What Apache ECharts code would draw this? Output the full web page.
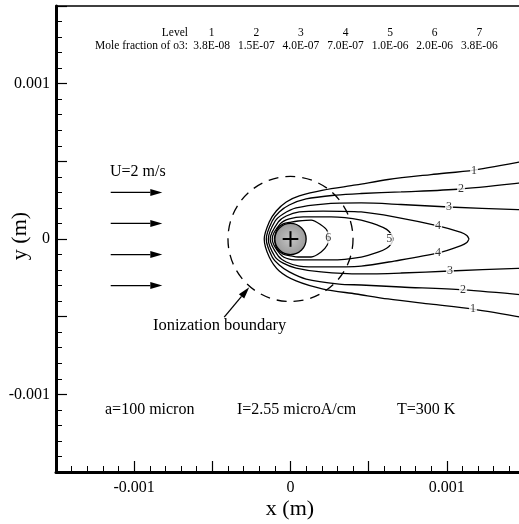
<!DOCTYPE html>
<html>
<head>
<meta charset="utf-8">
<script src="https://cdn.jsdelivr.net/npm/echarts@6/dist/echarts.min.js"></script>
<style>
html,body{margin:0;padding:0;background:#fff;overflow:hidden;}
#main{width:530px;height:524px;}
</style>
</head>
<body>
<div id="main"></div>
<script>
// ---- data (metres) ----
const levels = ['1','2','3','4','5','6','7'];
const moleFractions = ['3.8E-08','1.5E-07','4.0E-07','7.0E-07','1.0E-06','2.0E-06','3.8E-06'];

const contour1 = [[1.5e-3,0.503e-3],[1.174e-3,0.444e-3],[0.899e-3,0.415e-3],[0.624e-3,0.383e-3],[0.420e-3,0.348e-3],[0.209e-3,0.315e-3],[0.056e-3,0.277e-3],[-0.027e-3,0.238e-3],[-0.091e-3,0.180e-3],[-0.136e-3,0.109e-3],[-0.168e-3,0],[-0.136e-3,-0.116e-3],[-0.072e-3,-0.206e-3],[0.036e-3,-0.270e-3],[0.209e-3,-0.322e-3],[0.420e-3,-0.354e-3],[0.624e-3,-0.386e-3],[0.899e-3,-0.419e-3],[1.167e-3,-0.451e-3],[1.5e-3,-0.507e-3]];
const contour2 = [[1.5e-3,0.364e-3],[1.091e-3,0.322e-3],[0.707e-3,0.303e-3],[0.452e-3,0.293e-3],[0.292e-3,0.283e-3],[0.100e-3,0.258e-3],[-0.008e-3,0.219e-3],[-0.072e-3,0.174e-3],[-0.117e-3,0.116e-3],[-0.155e-3,0],[-0.117e-3,-0.116e-3],[-0.072e-3,-0.167e-3],[-0.008e-3,-0.212e-3],[0.100e-3,-0.258e-3],[0.311e-3,-0.290e-3],[0.452e-3,-0.296e-3],[0.707e-3,-0.309e-3],[1.104e-3,-0.328e-3],[1.5e-3,-0.361e-3]];
const contour3 = [[1.5e-3,0.187e-3],[1.013e-3,0.206e-3],[0.707e-3,0.222e-3],[0.452e-3,0.232e-3],[0.209e-3,0.225e-3],[0.036e-3,0.200e-3],[-0.047e-3,0.161e-3],[-0.098e-3,0.116e-3],[-0.142e-3,0],[-0.098e-3,-0.116e-3],[-0.047e-3,-0.155e-3],[0.036e-3,-0.187e-3],[0.196e-3,-0.212e-3],[0.452e-3,-0.225e-3],[0.707e-3,-0.219e-3],[1.020e-3,-0.206e-3],[1.5e-3,-0.187e-3]];
const contour4 = [[1.142e-3,0],[1.128e-3,0.022e-3],[1.091e-3,0.042e-3],[0.944e-3,0.084e-3],[0.663e-3,0.142e-3],[0.452e-3,0.174e-3],[0.209e-3,0.180e-3],[0.056e-3,0.174e-3],[-0.027e-3,0.148e-3],[-0.079e-3,0.109e-3],[-0.130e-3,0],[-0.079e-3,-0.109e-3],[-0.027e-3,-0.148e-3],[0.056e-3,-0.174e-3],[0.209e-3,-0.180e-3],[0.452e-3,-0.174e-3],[0.663e-3,-0.142e-3],[0.944e-3,-0.090e-3],[1.091e-3,-0.042e-3],[1.128e-3,-0.022e-3],[1.142e-3,0]];
const contour5 = [[0.656e-3,0],[0.645e-3,0.030e-3],[0.615e-3,0.062e-3],[0.560e-3,0.088e-3],[0.452e-3,0.122e-3],[0.260e-3,0.142e-3],[0.081e-3,0.142e-3],[-0.008e-3,0.129e-3],[-0.066e-3,0.097e-3],[-0.117e-3,0],[-0.066e-3,-0.097e-3],[-0.008e-3,-0.129e-3],[0.081e-3,-0.135e-3],[0.260e-3,-0.135e-3],[0.452e-3,-0.116e-3],[0.560e-3,-0.085e-3],[0.615e-3,-0.060e-3],[0.645e-3,-0.030e-3],[0.656e-3,0]];
const contour6 = [[-0.104e-3,0],[-0.085e-3,0.064e-3],[-0.047e-3,0.097e-3],[0.004e-3,0.109e-3],[0.049e-3,0.116e-3],[0.132e-3,0.122e-3],[0.196e-3,0.090e-3],[0.235e-3,0.052e-3],[0.241e-3,0],[0.235e-3,-0.039e-3],[0.196e-3,-0.084e-3],[0.132e-3,-0.116e-3],[0.049e-3,-0.116e-3],[0.004e-3,-0.109e-3],[-0.047e-3,-0.097e-3],[-0.085e-3,-0.064e-3],[-0.104e-3,0]];
const contours = [contour1, contour2, contour3, contour4, contour5, contour6];

const contourLabels = [
  ['1',1.174e-3,0.438e-3],['1',1.167e-3,-0.451e-3],
  ['2',1.091e-3,0.322e-3],['2',1.104e-3,-0.328e-3],
  ['3',1.014e-3,0.206e-3],['3',1.020e-3,-0.206e-3],
  ['4',0.944e-3,0.084e-3],['4',0.944e-3,-0.090e-3],
  ['5',0.631e-3,0],['6',0.241e-3,0.010e-3]
];

const wire = [[0, 0, 0.1e-3]];               // centre x, y, radius a = 100 micron
const ionBoundary = [[0, 0, 0.4e-3]];        // centre x, y, radius
// arrows: [x1, y1, x2, y2] (tail -> head)
const arrows = [
  [-1.15e-3, 0.3e-3, -0.82e-3, 0.3e-3],
  [-1.15e-3, 0.1e-3, -0.82e-3, 0.1e-3],
  [-1.15e-3,-0.1e-3, -0.82e-3,-0.1e-3],
  [-1.15e-3,-0.3e-3, -0.82e-3,-0.3e-3],
  [-0.424e-3,-0.503e-3, -0.264e-3,-0.310e-3]
];

const axisMin = -0.0015, axisMax = 0.0015, axisStep = 0.0005;

const SERIF = '"Liberation Serif", "Times New Roman", serif';

function tickLabel(v){
  const k = Math.round(v / axisStep);
  if (k % 2 !== 0) return '';
  if (k === 0) return '0';
  return (k * axisStep).toFixed(3);
}

const chart = echarts.init(document.getElementById('main'), null, {renderer:'canvas'});

const series = [];
contours.forEach((c, i) => {
  series.push({
    type:'line', data:c, smooth:0.3, showSymbol:false, symbol:'none',
    lineStyle:{color:'#000', width:1.3}, z:2, silent:true
  });
});
series.push({
  type:'custom', z:1, silent:true,
  data: ionBoundary,
  renderItem:(params, api) => {
    const c = api.coord([api.value(0), api.value(1)]);
    const r = api.size([api.value(2), 0])[0];
    return {type:'circle', shape:{cx:c[0], cy:c[1], r:r},
      style:{fill:null, stroke:'#000', lineWidth:1.3, lineDash:[10,7]}};
  }
});
series.push({
  type:'custom', z:5, silent:true,
  data: wire,
  renderItem:(params, api) => {
    const c = api.coord([api.value(0), api.value(1)]);
    const r = api.size([api.value(2), 0])[0];
    const a = r * 0.5;
    return {type:'group', children:[
      {type:'circle', shape:{cx:c[0], cy:c[1], r:r},
        style:{fill:{type:'radial', x:0.5, y:0.5, r:0.5, colorStops:[{offset:0,color:'#c4c4c4'},{offset:1,color:'#9a9a9a'}]}, stroke:'#000', lineWidth:1.3}},
      {type:'line', shape:{x1:c[0]-a, y1:c[1], x2:c[0]+a, y2:c[1]}, style:{stroke:'#000', lineWidth:2}},
      {type:'line', shape:{x1:c[0], y1:c[1]-a, x2:c[0], y2:c[1]+a}, style:{stroke:'#000', lineWidth:2}}
    ]};
  }
});
series.push({
  type:'scatter', z:4, silent:true, symbolSize:1,
  itemStyle:{color:'rgba(0,0,0,0)'},
  data: contourLabels.map(d => ({name:d[0], value:[d[1], d[2]]})),
  label:{show:true, position:'inside', formatter:'{b}', color:'#000',
    fontFamily:SERIF, fontSize:12, backgroundColor:'#fff', padding:[0,1]}
});
series.push({
  type:'custom', z:3, silent:true,
  data: arrows,
  renderItem:(params, api) => {
    const p1 = api.coord([api.value(0), api.value(1)]);
    const p2 = api.coord([api.value(2), api.value(3)]);
    const dx = p2[0]-p1[0], dy = p2[1]-p1[1];
    const len = Math.sqrt(dx*dx+dy*dy);
    const ux = dx/len, uy = dy/len;
    const hl = 12, hw = 3.5;
    const bx = p2[0]-ux*hl, by = p2[1]-uy*hl;
    return {type:'group', children:[
      {type:'line', shape:{x1:p1[0], y1:p1[1], x2:bx, y2:by}, style:{stroke:'#000', lineWidth:1.3}},
      {type:'polygon', shape:{points:[[p2[0],p2[1]],[bx-uy*hw, by+ux*hw],[bx+uy*hw, by-ux*hw]]}, style:{fill:'#000'}}
    ]};
  }
});

const graphics = [];
graphics.push({type:'text', x:188, y:33, style:{text:'Level', font:'11.5px '+SERIF, textAlign:'right', textVerticalAlign:'middle', fill:'#000'}});
graphics.push({type:'text', x:188, y:46, style:{text:'Mole fraction of o3:', font:'11.5px '+SERIF, textAlign:'right', textVerticalAlign:'middle', fill:'#000'}});
levels.forEach((l, i) => {
  const cx = 211.7 + i * 44.6;
  graphics.push({type:'text', x:cx, y:33, style:{text:l, font:'11.5px '+SERIF, textAlign:'center', textVerticalAlign:'middle', fill:'#000'}});
  graphics.push({type:'text', x:cx, y:46, style:{text:moleFractions[i], font:'11.5px '+SERIF, textAlign:'center', textVerticalAlign:'middle', fill:'#000'}});
});
const note = (t, x, y, size, align) => ({type:'text', x:x, y:y, style:{text:t, font:size+'px '+SERIF, textAlign:align||'left', textVerticalAlign:'middle', fill:'#000'}});
graphics.push(note('U=2 m/s', 110, 172, 16));
graphics.push(note('Ionization boundary', 153, 326, 16.5));
graphics.push(note('a=100 micron', 105, 410, 16));
graphics.push(note('I=2.55 microA/cm', 237, 410, 16));
graphics.push(note('T=300 K', 397, 410, 16));
graphics.push(note('x (m)', 290, 509, 22, 'center'));
graphics.push({type:'text', x:20, y:236, rotation:Math.PI/2, style:{text:'y (m)', font:'22px '+SERIF, textAlign:'center', textVerticalAlign:'middle', fill:'#000'}});

const axisCommon = {
  type:'value', min:axisMin, max:axisMax, interval:axisStep,
  splitLine:{show:false},
  axisLine:{show:true, onZero:false, lineStyle:{color:'#000', width:3}},
  axisTick:{show:true, inside:true, length:11, lineStyle:{color:'#000', width:1.2}},
  minorTick:{show:true, splitNumber:5, length:6, lineStyle:{color:'#000', width:1}},
  axisLabel:{formatter:tickLabel, color:'#000', fontFamily:SERIF, fontSize:16, showMinLabel:true, showMaxLabel:true}
};

chart.setOption({
  animation:false,
  backgroundColor:'#fff',
  grid:{left:56, top:6, width:469, height:466, containLabel:false},
  xAxis:[
    Object.assign({}, axisCommon, {position:'bottom', axisLabel:Object.assign({}, axisCommon.axisLabel, {margin:8})}),
    {type:'value', min:axisMin, max:axisMax, position:'top', splitLine:{show:false},
     axisLine:{show:true, onZero:false, lineStyle:{color:'#000', width:1.5}}, axisTick:{show:false}, axisLabel:{show:false}}
  ],
  yAxis:[
    Object.assign({}, axisCommon, {position:'left', axisLabel:Object.assign({}, axisCommon.axisLabel, {margin:6})})
  ],
  graphic:graphics,
  series:series
});
</script>
</body>
</html>
